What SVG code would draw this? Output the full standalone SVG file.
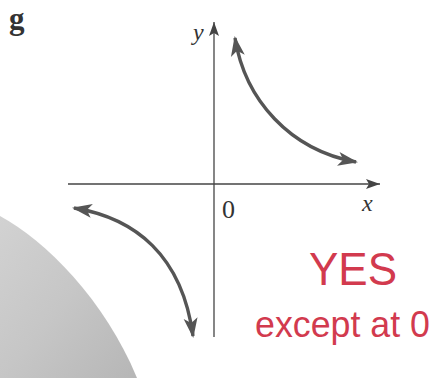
<svg xmlns="http://www.w3.org/2000/svg" width="433" height="378" viewBox="0 0 433 378">
<defs>
<style>
.axis{stroke:#444;stroke-width:1.3;fill:none}
.curve{stroke:#555;stroke-width:3.4;fill:none}
.lbl{font-family:"Liberation Serif",serif;fill:#333}
.hand{font-family:"Liberation Sans",sans-serif;fill:#d23a4e}
</style>
<marker id="ah" viewBox="0 0 20 16" refX="18" refY="8" markerWidth="20" markerHeight="16" markerUnits="userSpaceOnUse" orient="auto-start-reverse">
<path d="M0,1 L20,8 L0,15 L5,8 Z" fill="#555"/>
</marker>
<marker id="ax" viewBox="0 0 14 10" refX="14" refY="5" markerWidth="14" markerHeight="10" markerUnits="userSpaceOnUse" orient="auto">
<path d="M0,0 L14,5 L0,10 L3,5 Z" fill="#444"/>
</marker>
<linearGradient id="sh" x1="0" y1="0" x2="1" y2="1">
<stop offset="0" stop-color="#d2d2d2"/>
<stop offset="0.5" stop-color="#c6c6c6"/>
<stop offset="1" stop-color="#b6b6b6"/>
</linearGradient>
</defs>
<rect width="433" height="378" fill="#fff"/>
<path id="shadow" d="M0,216 C45,240 105,300 137,378 L0,378 Z" fill="url(#sh)"/>
<g id="axes">
<line class="axis" x1="68" y1="184" x2="380" y2="184" marker-end="url(#ax)"/>
<line class="axis" x1="214" y1="337" x2="214" y2="22" marker-end="url(#ax)"/>
</g>
<g id="connectors">
<path class="curve" d="M235,38 C245,100 290,150 356,162" marker-start="url(#ah)" marker-end="url(#ah)"/>
<path class="curve" d="M74,208 C135,218 182,255 193,336" marker-start="url(#ah)" marker-end="url(#ah)"/>
</g>
<g id="labels">
<text class="lbl" x="9" y="29" font-size="31" font-weight="bold" fill="#444">g</text>
<text class="lbl" x="193" y="40" font-size="24" font-style="italic">y</text>
<text class="lbl" x="362" y="211" font-size="24" font-style="italic">x</text>
<text class="lbl" x="222" y="218" font-size="26">0</text>
<text class="hand" x="309" y="285" font-size="46" textLength="88" lengthAdjust="spacingAndGlyphs">YES</text>
<text class="hand" x="255" y="337" font-size="36" textLength="175" lengthAdjust="spacingAndGlyphs">except at 0</text>
</g>
</svg>
